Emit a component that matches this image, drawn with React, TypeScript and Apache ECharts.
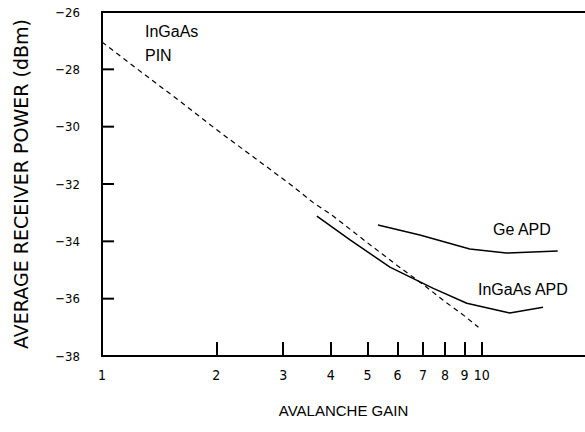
import React, { useEffect, useRef } from "react";
import * as echarts from "echarts";

const xTicks = [1, 2, 3, 4, 5, 6, 7, 8, 9, 10];
const yTicks = [-38, -36, -34, -32, -30, -28, -26];

const pinGain = [1, 1.3, 1.6, 2, 2.5, 3.16, 3.6, 4, 5, 6, 7, 8, 9, 9.8];
const pinPower = [-27.05, -28.2, -29.1, -30.1, -31.05, -32.05, -32.65, -33.05, -34.05, -34.85, -35.5, -36.1, -36.6, -37.0];

const ingaasApdGain = [3.68, 4.5, 5.73, 7.43, 9.13, 11.85, 14.5];
const ingaasApdPower = [-33.12, -33.95, -34.9, -35.63, -36.16, -36.5, -36.3];

const geApdGain = [5.33, 6.87, 9.3, 11.6, 15.85];
const geApdPower = [-33.43, -33.78, -34.27, -34.41, -34.34];

const zip = (a: number[], b: number[]) => a.map((v, i) => [v, b[i]]);

const tickFont = "'DejaVu Sans Condensed', 'DejaVu Sans', sans-serif";
const textFont = "'Liberation Sans', Arial, sans-serif";

export default function App() {
  const ref = useRef<HTMLDivElement>(null);
  useEffect(() => {
    if (!ref.current) return;
    const chart = echarts.init(ref.current, undefined, { renderer: "svg" });
    const yMin = yTicks[0];
    const yMax = yTicks[yTicks.length - 1];
    const xMin = xTicks[0];
    chart.setOption({
      animation: false,
      backgroundColor: "#fff",
      grid: { left: 102, top: 12, right: 0, bottom: 76, containLabel: false },
      xAxis: [
        {
          type: "log",
          logBase: 10,
          min: xMin,
          max: 18.7,
          name: "AVALANCHE GAIN",
          nameLocation: "middle",
          nameGap: 47,
          nameTextStyle: { color: "#000", fontSize: 15, fontFamily: textFont },
          axisLine: { show: true, onZero: false, lineStyle: { color: "#000", width: 2 } },
          axisTick: {
            show: true,
            inside: true,
            length: 14,
            lineStyle: { color: "#000", width: 2 },
            customValues: xTicks.slice(1),
          },
          axisLabel: {
            color: "#000",
            fontSize: 14,
            fontFamily: tickFont,
            margin: 12,
            customValues: xTicks,
          },
          splitLine: { show: false },
          minorTick: { show: false },
        },
        {
          type: "log",
          logBase: 10,
          min: xMin,
          max: 18.7,
          position: "top",
          axisLine: { show: true, onZero: false, lineStyle: { color: "#000", width: 2 } },
          axisTick: { show: false },
          axisLabel: { show: false },
          splitLine: { show: false },
        },
      ],
      yAxis: {
        type: "value",
        min: yMin,
        max: yMax,
        interval: 2,
        name: "AVERAGE RECEIVER POWER (dBm)",
        nameLocation: "middle",
        nameGap: 72,
        nameRotate: 90,
        nameTextStyle: { color: "#000", fontSize: 19, fontFamily: "'DejaVu Sans', sans-serif" },
        axisLine: { show: true, onZero: false, lineStyle: { color: "#000", width: 2 } },
        axisTick: { show: false },
        axisLabel: {
          color: "#000",
          fontSize: 13,
          fontFamily: tickFont,
          margin: 22,
          formatter: (v: number) => (v < 0 ? "\u2212" + Math.abs(v) : String(v)),
        },
        splitLine: { show: false },
      },
      series: [
        {
          name: "InGaAs PIN",
          type: "line",
          data: zip(pinGain, pinPower),
          showSymbol: false,
          lineStyle: { color: "#000", width: 1.2, type: [5, 4] },
        },
        {
          name: "InGaAs APD",
          type: "line",
          data: zip(ingaasApdGain, ingaasApdPower),
          showSymbol: false,
          lineStyle: { color: "#000", width: 1.5 },
        },
        {
          name: "Ge APD",
          type: "line",
          data: zip(geApdGain, geApdPower),
          showSymbol: false,
          lineStyle: { color: "#000", width: 1.5 },
        },
        {
          name: "yTicks",
          type: "custom",
          z: 10,
          clip: false,
          silent: true,
          data: yTicks.slice(1, yTicks.length - 1).map((v) => [xMin, v]),
          renderItem: (_params: any, api: any) => {
            const p = api.coord([api.value(0), api.value(1)]);
            return {
              type: "line",
              shape: { x1: p[0], y1: p[1], x2: p[0] + 12, y2: p[1] },
              style: { stroke: "#000", lineWidth: 2 },
            };
          },
        },
      ],
      graphic: [
        { type: "text", left: 145, top: 23, style: { text: "InGaAs", fill: "#000", font: `16px ${textFont}` } },
        { type: "text", left: 145, top: 47, style: { text: "PIN", fill: "#000", font: `16px ${textFont}` } },
        { type: "text", left: 493, top: 221, style: { text: "Ge APD", fill: "#000", font: `16px ${textFont}` } },
        { type: "text", left: 478, top: 281, style: { text: "InGaAs APD", fill: "#000", font: `16px ${textFont}` } },
      ],
    });
    return () => chart.dispose();
  }, []);
  return (
    <div
      ref={ref}
      style={{ position: "fixed", left: 0, top: 0, width: 585, height: 432, background: "#fff" }}
    />
  );
}
